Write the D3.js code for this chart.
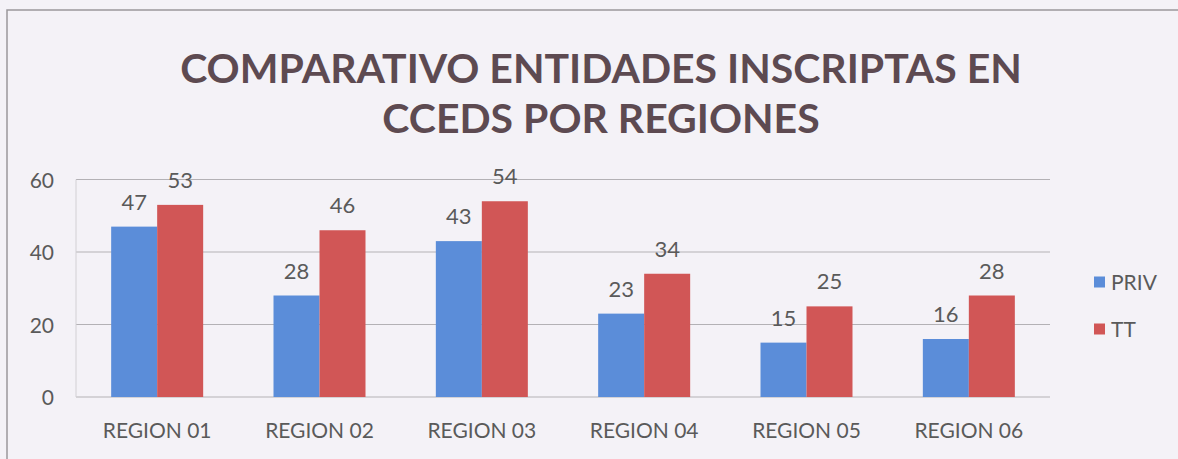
<!DOCTYPE html>
<html>
<head>
<meta charset="utf-8">
<script src="https://cdn.jsdelivr.net/npm/d3@7"></script>
<style>
  html, body { margin: 0; padding: 0; background: #f4f2f7; }
  svg { display: block; }
</style>
</head>
<body>
<svg id="chart" width="1178" height="459"></svg>
<script>
const categories = ["REGION 01", "REGION 02", "REGION 03", "REGION 04", "REGION 05", "REGION 06"];
const seriesNames = ["PRIV", "TT"];
const privValues = [47, 28, 43, 23, 15, 16];
const ttValues = [53, 46, 54, 34, 25, 28];
const yTicks = [0, 20, 40, 60];
const titleLines = ["COMPARATIVO ENTIDADES INSCRIPTAS EN", "CCEDS POR REGIONES"];
const seriesColors = ["#5b8dd9", "#d15656"];

const svg = d3.select("#chart");
const W = 1178, H = 459;
const plot = { left: 76, right: 1050, top: 179.5, bottom: 397 };

svg.append("rect").attr("width", W).attr("height", H).attr("fill", "#f4f2f7");

// outer frame (chart area border)
svg.append("path")
  .attr("d", `M${W + 5},10 L7,10 L7,${H + 5}`)
  .attr("fill", "none").attr("stroke", "#9a989c").attr("stroke-width", 1.5);

// title
const titleColor = "#5d4a51";
const titleFont = "Lato, 'Open Sans', sans-serif";
const titleG = svg.append("g");
const t1 = titleG.append("text").text(titleLines[0])
  .attr("x", 601).attr("y", 83).attr("text-anchor", "middle")
  .attr("font-family", titleFont).attr("font-weight", "bold")
  .attr("font-size", 30).attr("fill", titleColor);
const w1 = t1.node().getComputedTextLength();
const fs = 30 * 842 / w1;
t1.attr("font-size", fs);
titleG.append("text").text(titleLines[1])
  .attr("x", 601).attr("y", 133).attr("text-anchor", "middle")
  .attr("font-family", titleFont).attr("font-weight", "bold")
  .attr("font-size", fs).attr("fill", titleColor);

// scales
const y = d3.scaleLinear().domain([0, 60]).range([plot.bottom, plot.top]);
const step = (plot.right - plot.left) / categories.length;
const pIn = 1 - 92 / step;
const x0 = d3.scaleBand().domain(categories).range([plot.left, plot.right])
  .paddingInner(pIn).paddingOuter(pIn / 2);
const x1 = d3.scaleBand().domain(seriesNames).range([0, x0.bandwidth()]);

const textColor = "#5a5a5a";
const font = "Lato, 'Open Sans', sans-serif";

// gridlines
svg.append("g").selectAll("line").data(yTicks).join("line")
  .attr("x1", plot.left).attr("x2", plot.right)
  .attr("y1", d => y(d)).attr("y2", d => y(d))
  .attr("stroke", "#b3b1b5").attr("stroke-width", 1.2);
// left plot edge
svg.append("line").attr("x1", plot.left).attr("x2", plot.left)
  .attr("y1", plot.top).attr("y2", plot.bottom)
  .attr("stroke", "#d2d0d4").attr("stroke-width", 1);

// y axis (tick labels)
const yAxis = d3.axisLeft(y).tickValues(yTicks).tickSize(0).tickPadding(0);
const yG = svg.append("g").attr("transform", `translate(54,0)`).call(yAxis);
yG.select(".domain").remove();
yG.selectAll("text").attr("font-family", font).attr("font-size", 21)
  .attr("fill", textColor).attr("dy", "0.36em");

// x axis labels
const xAxis = d3.axisBottom(x0).tickSize(0).tickPadding(0);
const xG = svg.append("g").attr("transform", `translate(0,438)`).call(xAxis);
xG.select(".domain").remove();
xG.selectAll("text").attr("font-family", font).attr("font-size", 21)
  .attr("fill", textColor).attr("dy", 0);

// bars
const data = categories.map((c, i) => ({ cat: c, vals: [
  { s: seriesNames[0], v: privValues[i], c: seriesColors[0] },
  { s: seriesNames[1], v: ttValues[i], c: seriesColors[1] }
]}));
const groups = svg.append("g").selectAll("g").data(data).join("g")
  .attr("transform", d => `translate(${x0(d.cat)},0)`);
groups.selectAll("rect").data(d => d.vals).join("rect")
  .attr("x", d => x1(d.s)).attr("width", x1.bandwidth())
  .attr("y", d => y(d.v)).attr("height", d => y(0) - y(d.v))
  .attr("fill", d => d.c);
groups.selectAll("text").data(d => d.vals).join("text")
  .attr("x", d => x1(d.s) + x1.bandwidth() / 2)
  .attr("y", d => y(d.v) - 17)
  .attr("text-anchor", "middle")
  .attr("font-family", font).attr("font-size", 22).attr("fill", textColor)
  .text(d => d.v);

// legend
const legend = svg.append("g").selectAll("g").data(seriesNames).join("g")
  .attr("transform", (d, i) => `translate(1094,${282 + i * 47})`);
legend.append("rect").attr("x", 0).attr("y", -5.5).attr("width", 11).attr("height", 11)
  .attr("fill", (d, i) => seriesColors[i]);
legend.append("text").attr("x", 17).attr("y", 0).attr("dy", "0.36em")
  .attr("font-family", font).attr("font-size", 21).attr("fill", textColor)
  .text(d => d);
</script>
</body>
</html>
